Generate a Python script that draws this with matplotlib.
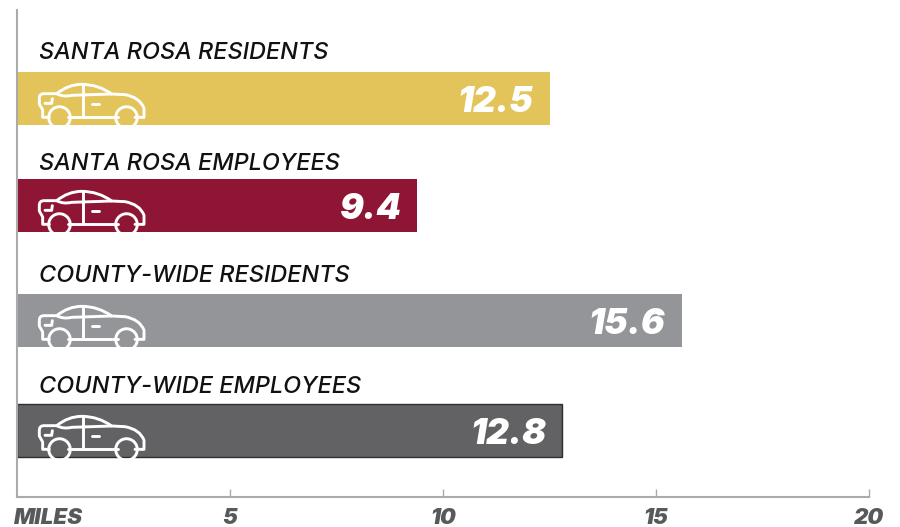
import numpy as np
import matplotlib
matplotlib.use("Agg")
import matplotlib.pyplot as plt
from matplotlib.patches import PathPatch
from matplotlib.path import Path
from matplotlib.transforms import ScaledTranslation

categories = ["SANTA ROSA RESIDENTS", "SANTA ROSA EMPLOYEES", "COUNTY-WIDE RESIDENTS", "COUNTY-WIDE EMPLOYEES"]
values = [12.5, 9.4, 15.6, 12.8]
colors = ["#E3C45A", "#8E1534", "#939598", "#626264"]
edges = ["none", "none", "none", "#2E2E2E"]
tick_values = [5, 10, 15, 20]
FONT = "Inter"

W, H = 900, 527
fig = plt.figure(figsize=(W/100, H/100), dpi=100)
L, R, T, B = 17, 869, 10, 497
ax = fig.add_axes([L/W, 1-B/H, (R-L)/W, (B-T)/H])
ax.set_xlim(0, 20)
ax.set_ylim(B, T)
ax.patch.set_visible(False)

bar_top = [72, 179, 294, 404]
label_y = [53, 164, 275.5, 387]
bar_h = 53
centers = [t + bar_h/2 for t in bar_top]
ax.barh(centers, values, height=bar_h, color=colors, edgecolor=edges, linewidth=1, zorder=2)

for s in ("top", "right"):
    ax.spines[s].set_visible(False)
for s in ("left", "bottom"):
    ax.spines[s].set_color("#ABABAB")
    ax.spines[s].set_linewidth(1.5)
ax.set_yticks([])
ax.set_xticks([0] + tick_values)
ax.set_xticklabels(["MILES"] + [str(t) for t in tick_values])
ax.tick_params(axis="x", direction="in", length=6, width=1, color="#ABABAB", pad=8)
ax.xaxis.get_major_ticks()[0].tick1line.set_visible(False)
for i, lab in enumerate(ax.get_xticklabels()):
    lab.set_fontfamily(FONT); lab.set_fontstyle("italic"); lab.set_fontweight("black")
    lab.set_fontsize(16); lab.set_color("#58595B")
    if i == 0:
        lab.set_ha("left")
        lab.set_transform(lab.get_transform() + ScaledTranslation(-3/100, 0, fig.dpi_scale_trans))

px2x = 20/(R-L)
def car(y0):
    def P(zx, zy):
        return ((zx/3 - L)*px2x, y0 + (zy-36)/3)
    def curve(pts, codes):
        ax.add_patch(PathPatch(Path([P(*p) for p in pts], codes), fill=False, ec="white",
                               lw=2.1, zorder=3, joinstyle="round", capstyle="round"))
    def line(pts):
        curve(pts, [Path.MOVETO] + [Path.LINETO]*(len(pts)-1))
    M, Li, C = Path.MOVETO, Path.LINETO, Path.CURVE3
    curve([(148,172),(128,172),(128,150),(118,132),(118,115),(118,101),(132,101),(170,101),
           (205,73),(245,73),(295,73),(335,102),(375,104),(420,112),(432,145),(432,172),(405,172)],
          [M,Li,Li,Li,Li,C,C,Li,C,C,C,C,Li,C,C,Li,Li])
    line([(203,172),(353,172)])
    curve([(170,101),(190,112),(215,106),(335,102)], [M,C,C,Li])
    line([(250,75),(250,165)])
    line([(275,131),(298,131)])
    line([(135,130),(155,130),(157,116)])
    for zx in (176, 378):
        cx, cy = P(zx, 170)
        ax.plot([cx], [cy], "o", ms=15.5, mfc="none", mec="white", mew=2.1, zorder=3, clip_on=False)

for name, v, t, c, ly in zip(categories, values, bar_top, centers, label_y):
    ax.text((39-L)*px2x, ly, name, fontfamily=FONT, fontstyle="italic", fontweight="medium",
            fontsize=16.9, color="#111111", va="center", ha="left")
    car(t)
    ax.text(v - 16*px2x, c+4, f"{v:.1f}", fontfamily=FONT, fontstyle="italic", fontweight="black",
            fontsize=25.5, color="white", va="center", ha="right", zorder=4)

fig.savefig("out.png", dpi=100)
